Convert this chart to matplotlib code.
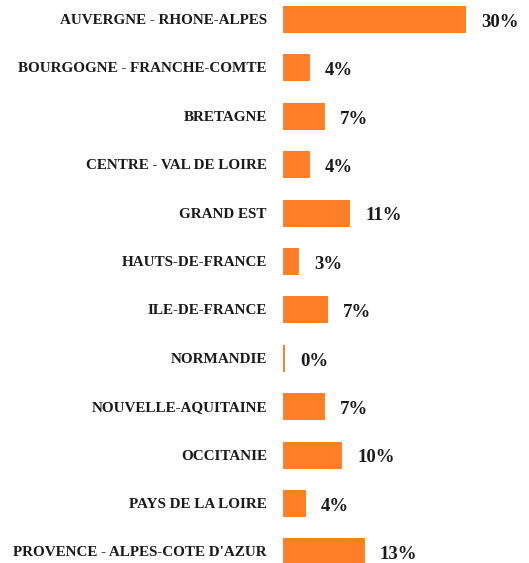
import matplotlib.pyplot as plt

# Data
regions = [
    'AUVERGNE - RHONE-ALPES', 'BOURGOGNE - FRANCHE-COMTE', 'BRETAGNE',
    'CENTRE - VAL DE LOIRE', 'GRAND EST', 'HAUTS-DE-FRANCE', 'ILE-DE-FRANCE',
    'NORMANDIE', 'NOUVELLE-AQUITAINE', 'OCCITANIE', 'PAYS DE LA LOIRE',
    "PROVENCE - ALPES-COTE D'AZUR"
]
shares = [30.0, 4.4, 6.9, 4.4, 11.0, 2.7, 7.4, 0.3, 6.9, 9.7, 3.8, 13.4]
share_labels = ['30%', '4%', '7%', '4%', '11%', '3%', '7%', '0%', '7%', '10%', '4%', '13%']

bar_color = '#FE7F28'
text_color = '#1a1a1a'

fig = plt.figure(figsize=(5.29, 5.63), dpi=100)
ax = fig.add_axes([0.5344, 0, 1 - 0.5344, 1])

ypos = list(range(len(regions)))
ax.barh(ypos, shares, height=0.56, color=bar_color)

ax.set_xlim(0, 40.3)
ax.set_ylim(11.23, -0.403)

# category labels on the left
for y, name in zip(ypos, regions):
    ax.text(-2.6, y + 0.02, name, ha='right', va='center', fontsize=10.9,
            fontweight='bold', family='Liberation Serif', color=text_color)

# value labels
for y, v, lab in zip(ypos, shares, share_labels):
    ax.text(v + 2.5, y + 0.06, lab, ha='left', va='center', fontsize=13.5,
            fontweight='bold', family='Liberation Serif', color=text_color)

ax.axis('off')
fig.savefig('out.png', dpi=100)
